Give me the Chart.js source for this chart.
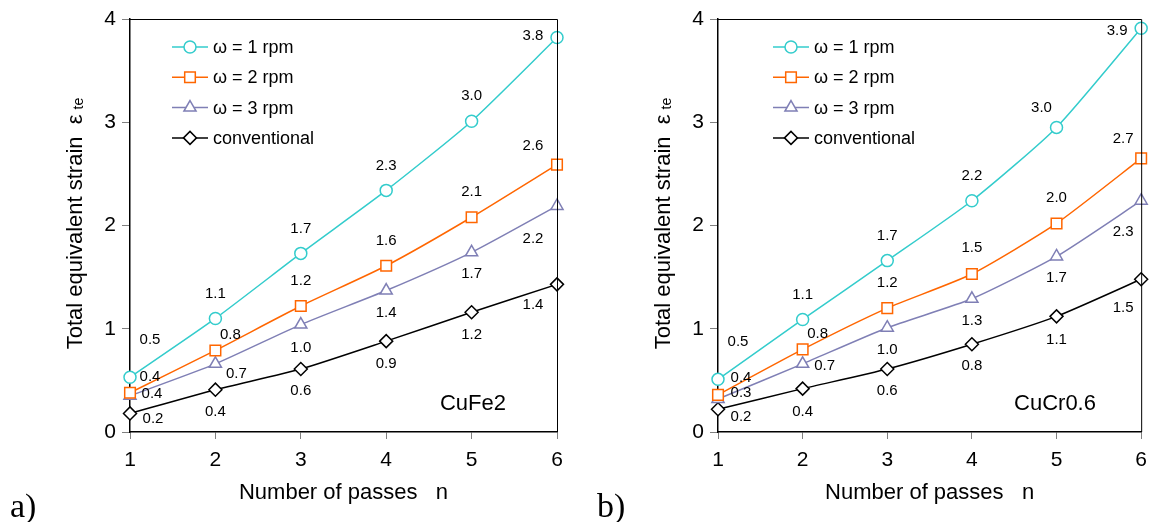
<!DOCTYPE html>
<html>
<head>
<meta charset="utf-8">
<script src="https://cdn.jsdelivr.net/npm/chart.js@4/dist/chart.umd.min.js"></script>
<style>
  html, body { margin: 0; padding: 0; background: #fff; }
  #page { position: relative; width: 1156px; height: 522px; overflow: hidden; }
  .panel { position: absolute; top: 0; height: 522px; }
  .tag { position: absolute; font-family: "Liberation Serif", "Times New Roman", serif; font-size: 34px; line-height: 34px; color: #000; }
</style>
</head>
<body>
<div id="page">
  <div class="panel" style="left:0;width:580px"><canvas id="chartA"></canvas></div>
  <div class="panel" style="left:588px;width:568px"><canvas id="chartB"></canvas></div>
  <div class="tag" style="left:10px;top:489px">a)</div>
  <div class="tag" style="left:597px;top:489px">b)</div>
</div>
<script>
// x categories: number of passes
const passes = ['1', '2', '3', '4', '5', '6'];
const seriesNames = ['ω = 1 rpm', 'ω = 2 rpm', 'ω = 3 rpm', 'conventional'];

// a) CuFe2
const cuFeW1 = [0.53, 1.10, 1.73, 2.34, 3.01, 3.82];
const cuFeW2 = [0.38, 0.79, 1.22, 1.61, 2.08, 2.59];
const cuFeW3 = [0.35, 0.66, 1.04, 1.37, 1.74, 2.19];
const cuFeConv = [0.18, 0.41, 0.61, 0.88, 1.16, 1.43];
const cuFeW1Text = ['0.5', '1.1', '1.7', '2.3', '3.0', '3.8'];
const cuFeW2Text = ['0.4', '0.8', '1.2', '1.6', '2.1', '2.6'];
const cuFeW3Text = ['0.4', '0.7', '1.0', '1.4', '1.7', '2.2'];
const cuFeConvText = ['0.2', '0.4', '0.6', '0.9', '1.2', '1.4'];

// b) CuCr0.6
const cuCrW1 = [0.51, 1.09, 1.66, 2.24, 2.95, 3.91];
const cuCrW2 = [0.36, 0.80, 1.20, 1.53, 2.02, 2.65];
const cuCrW3 = [0.32, 0.66, 1.01, 1.29, 1.70, 2.24];
const cuCrConv = [0.22, 0.42, 0.61, 0.85, 1.12, 1.48];
const cuCrW1Text = ['0.5', '1.1', '1.7', '2.2', '3.0', '3.9'];
const cuCrW2Text = ['0.4', '0.8', '1.2', '1.5', '2.0', '2.7'];
const cuCrW3Text = ['0.3', '0.7', '1.0', '1.3', '1.7', '2.3'];
const cuCrConvText = ['0.2', '0.4', '0.6', '0.8', '1.1', '1.5'];

const yTicks = [0, 1, 2, 3, 4];

const FONT = '"Liberation Sans", Arial, sans-serif';
const colors = ['#33CCCC', '#FF6600', '#7F7FB5', '#000000'];
const styles = ['circle', 'rect', 'triangle', 'rectRot'];
const radii = [6, 7.5, 7, 6.5];

// where each value label sits relative to its marker (px)
const offsA = [
  [[20, -37], [0, -25], [0, -25], [0, -25], [0, -25], [-24, -2]],
  [[20, -16], [15, -16], [0, -25], [0, -25], [0, -25], [-24, -19]],
  [[22, -2], [21, 10], [0, 23], [0, 22], [0, 22], [-24, 33]],
  [[23, 5], [0, 22], [0, 22], [0, 23], [0, 23], [-24, 21]]
];
const offsB = [
  [[20, -37], [0, -25], [0, -25], [0, -25], [-15, -20], [-24, 3]],
  [[23, -17], [15, -16], [0, -25], [0, -26], [0, -26], [-18, -20]],
  [[23, -6], [22, 2], [0, 22], [0, 22], [0, 21], [-18, 31]],
  [[23, 8], [0, 23], [0, 22], [0, 22], [0, 23], [-18, 29]]
];

function makeDatasets(values) {
  return values.map((v, i) => ({
    label: seriesNames[i],
    data: v,
    borderColor: colors[i],
    backgroundColor: '#ffffff',
    borderWidth: 1.5,
    pointStyle: styles[i],
    pointRadius: radii[i],
    pointBorderWidth: 1.5,
    pointBorderColor: colors[i],
    pointBackgroundColor: '#ffffff',
    tension: 0.2,
    clip: false
  }));
}

const framePlugin = {
  id: 'frame',
  afterDatasetsDraw(chart) {
    const a = chart.chartArea;
    const ctx = chart.ctx;
    ctx.save();
    ctx.strokeStyle = '#000';
    ctx.lineWidth = 1;
    ctx.beginPath();
    ctx.moveTo(a.left, a.top + 0.5);
    ctx.lineTo(a.right + 0.5, a.top + 0.5);
    ctx.lineTo(a.right + 0.5, a.bottom);
    ctx.stroke();
    ctx.restore();
  }
};

const valueLabelPlugin = {
  id: 'valueLabels',
  afterDatasetsDraw(chart, args, opts) {
    const ctx = chart.ctx;
    ctx.save();
    ctx.font = '15px ' + FONT;
    ctx.fillStyle = '#000';
    ctx.textAlign = 'center';
    ctx.textBaseline = 'middle';
    chart.data.datasets.forEach((ds, i) => {
      const meta = chart.getDatasetMeta(i);
      meta.data.forEach((pt, j) => {
        const off = opts.offsets[i][j];
        ctx.fillText(opts.texts[i][j], pt.x + off[0], pt.y + off[1]);
      });
    });
    ctx.restore();
  }
};

const lineLegendPlugin = {
  id: 'lineLegend',
  afterDraw(chart, args, opts) {
    const ctx = chart.ctx;
    const x0 = chart.chartArea.left + opts.left;
    ctx.save();
    chart.data.datasets.forEach((ds, i) => {
      const y = opts.top + i * 30.3;
      ctx.strokeStyle = ds.borderColor;
      ctx.lineWidth = 1.5;
      ctx.beginPath();
      ctx.moveTo(x0, y);
      ctx.lineTo(x0 + 36, y);
      ctx.stroke();
      ctx.fillStyle = '#ffffff';
      Chart.helpers.drawPoint(ctx, {
        pointStyle: ds.pointStyle, radius: ds.pointRadius, rotation: 0, borderWidth: 1.5
      }, x0 + 18, y);
      ctx.fillStyle = '#000';
      ctx.font = '18px ' + FONT;
      ctx.textAlign = 'left';
      ctx.textBaseline = 'middle';
      ctx.fillText(ds.label, x0 + 41, y + 1);
    });
    ctx.restore();
  }
};

const titlesPlugin = {
  id: 'titles',
  afterDraw(chart, args, opts) {
    const ctx = chart.ctx;
    const a = chart.chartArea;
    ctx.save();
    ctx.fillStyle = '#000';
    // x title
    ctx.font = '22px ' + FONT;
    ctx.textAlign = 'center';
    ctx.textBaseline = 'middle';
    ctx.fillText('Number of passes   n', (a.left + a.right) / 2, 493);
    // y title with subscript
    const main = 'Total equivalent strain  ε';
    const sub = 'te';
    ctx.font = '22px ' + FONT;
    const wMain = ctx.measureText(main).width;
    ctx.font = '14px ' + FONT;
    const wSub = ctx.measureText(sub).width;
    const gap = 5;
    const total = wMain + gap + wSub;
    ctx.translate(opts.yTitleX, (a.top + a.bottom) / 2 - 2);
    ctx.rotate(-Math.PI / 2);
    ctx.textAlign = 'left';
    ctx.font = '22px ' + FONT;
    ctx.fillText(main, -total / 2, 0);
    ctx.font = '14px ' + FONT;
    ctx.fillText(sub, -total / 2 + wMain + gap, 3);
    ctx.restore();
    // alloy name
    ctx.save();
    ctx.fillStyle = '#000';
    ctx.font = '22px ' + FONT;
    ctx.textAlign = 'center';
    ctx.textBaseline = 'middle';
    ctx.fillText(opts.alloy, opts.alloyX, 404);
    ctx.restore();
  }
};

function buildChart(id, values, texts, offsets, rightPad, legendLeft, alloy, alloyX) {
  return new Chart(document.getElementById(id), {
    type: 'line',
    data: { labels: passes, datasets: makeDatasets(values) },
    options: {
      responsive: true,
      maintainAspectRatio: false,
      animation: false,
      layout: { padding: { left: 0, right: rightPad, top: 19, bottom: 0 } },
      scales: {
        x: {
          type: 'category',
          offset: false,
          afterFit(scale) { scale.height = 90; },
          grid: { drawOnChartArea: false, drawTicks: true, tickLength: 7, color: '#808080' },
          border: { display: true, color: '#000', width: 1.5 },
          ticks: { color: '#000', font: { family: FONT, size: 21 }, padding: 9, maxRotation: 0, autoSkip: false }
        },
        y: {
          min: 0,
          max: 4,
          afterFit(scale) { scale.width = 130; },
          afterBuildTicks(scale) { scale.ticks = yTicks.map(v => ({ value: v })); },
          grid: { drawOnChartArea: false, drawTicks: true, tickLength: 8, color: '#808080' },
          border: { display: true, color: '#000', width: 1.5 },
          ticks: { color: '#000', font: { family: FONT, size: 21 }, padding: 6 }
        }
      },
      plugins: {
        legend: { display: false },
        tooltip: { enabled: false },
        valueLabels: { texts: texts, offsets: offsets },
        lineLegend: { left: legendLeft, top: 47 },
        titles: { yTitleX: 76, alloy: alloy, alloyX: alloyX }
      }
    },
    plugins: [framePlugin, valueLabelPlugin, lineLegendPlugin, titlesPlugin]
  });
}

buildChart('chartA',
  [cuFeW1, cuFeW2, cuFeW3, cuFeConv],
  [cuFeW1Text, cuFeW2Text, cuFeW3Text, cuFeConvText],
  offsA, 23, 42, 'CuFe2', 473);

buildChart('chartB',
  [cuCrW1, cuCrW2, cuCrW3, cuCrConv],
  [cuCrW1Text, cuCrW2Text, cuCrW3Text, cuCrConvText],
  offsB, 9, 55, 'CuCr0.6', 467);
</script>
</body>
</html>
